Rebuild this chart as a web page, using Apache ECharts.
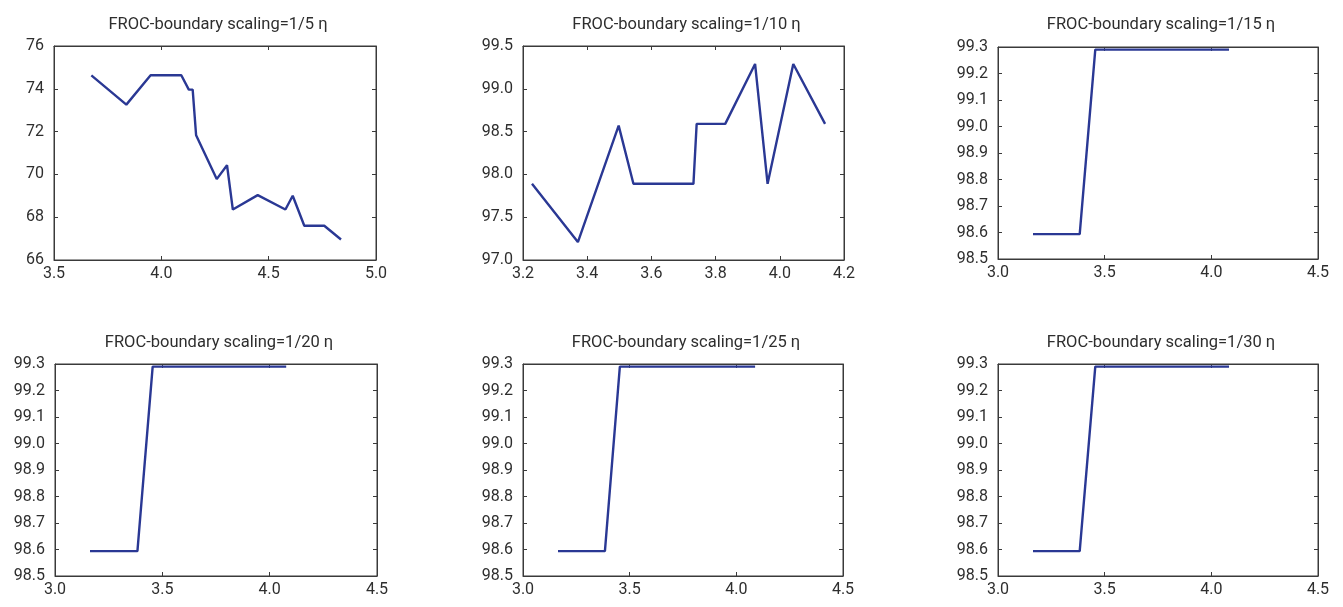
<!DOCTYPE html>
<html>
<head>
<meta charset="utf-8">
<script src="https://cdn.jsdelivr.net/npm/echarts@6/dist/echarts.min.js"></script>
<style>
html,body{margin:0;padding:0;background:#fff;}
#c{width:1343px;height:607px;}
</style>
</head>
<body>
<div id="c"></div>
<script>
// ---- data ----
const titles = [
  'FROC-boundary scaling=1/5 η',
  'FROC-boundary scaling=1/10 η',
  'FROC-boundary scaling=1/15 η',
  'FROC-boundary scaling=1/20 η',
  'FROC-boundary scaling=1/25 η',
  'FROC-boundary scaling=1/30 η'
];
const x1 = [3.674, 3.837, 3.950, 4.093, 4.128, 4.146, 4.162, 4.258, 4.306, 4.333, 4.449, 4.578, 4.612, 4.666, 4.759, 4.837];
const y1 = [74.63, 73.26, 74.63, 74.63, 73.96, 73.96, 71.83, 69.78, 70.43, 68.36, 69.03, 68.36, 69.00, 67.60, 67.60, 66.96];
const x2 = [3.228, 3.371, 3.498, 3.544, 3.731, 3.741, 3.830, 3.923, 3.962, 4.042, 4.141];
const y2 = [97.89, 97.21, 98.57, 97.89, 97.89, 98.59, 98.59, 99.29, 97.89, 99.29, 98.59];
const x3 = [3.164, 3.383, 3.456, 4.083];
const y3 = [98.594, 98.594, 99.29, 99.29];
const x4 = [3.163, 3.384, 3.455, 4.077];
const y4 = [98.594, 98.594, 99.29, 99.29];
const x5 = [3.164, 3.384, 3.454, 4.088];
const y5 = [98.594, 98.594, 99.29, 99.29];
const x6 = [3.164, 3.383, 3.456, 4.083];
const y6 = [98.594, 98.594, 99.29, 99.29];

const xTicks1 = [3.5, 4.0, 4.5, 5.0];
const yTicks1 = [66, 68, 70, 72, 74, 76];
const xTicks2 = [3.2, 3.4, 3.6, 3.8, 4.0, 4.2];
const yTicks2 = [97.0, 97.5, 98.0, 98.5, 99.0, 99.5];
const xTicksB = [3.0, 3.5, 4.0, 4.5];
const yTicksB = [98.5, 98.6, 98.7, 98.8, 98.9, 99.0, 99.1, 99.2, 99.3];

// ---- layout ----
const grids = [
  {left: 54, top: 46, width: 322, height: 214},
  {left: 523, top: 46, width: 321, height: 214},
  {left: 998, top: 47, width: 320, height: 212},
  {left: 55, top: 364, width: 322, height: 212},
  {left: 523, top: 364, width: 320, height: 212},
  {left: 998, top: 364, width: 320, height: 212}
];
const panels = [
  {x: x1, y: y1, xt: xTicks1, yt: yTicks1, xd: 1, yd: 0},
  {x: x2, y: y2, xt: xTicks2, yt: yTicks2, xd: 1, yd: 1},
  {x: x3, y: y3, xt: xTicksB, yt: yTicksB, xd: 1, yd: 1},
  {x: x4, y: y4, xt: xTicksB, yt: yTicksB, xd: 1, yd: 1},
  {x: x5, y: y5, xt: xTicksB, yt: yTicksB, xd: 1, yd: 1},
  {x: x6, y: y6, xt: xTicksB, yt: yTicksB, xd: 1, yd: 1}
];

const FONT = 'Roboto, "Liberation Sans", sans-serif';
const AXC = '#3a3a3a';
const LINEC = '#2a3894';

const option = {
  backgroundColor: '#fff',
  animation: false,
  title: [], grid: [], xAxis: [], yAxis: [], series: []
};

panels.forEach((p, i) => {
  const g = grids[i];
  option.grid.push({left: g.left, top: g.top, width: g.width, height: g.height,
    show: true, borderColor: AXC, borderWidth: 1, backgroundColor: '#fff'});
  option.title.push({
    text: titles[i],
    left: g.left + g.width / 2 - 2,
    top: i < 3 ? 11 : 329,
    textAlign: 'center',
    textStyle: {fontFamily: FONT, fontSize: 16.5, fontWeight: 'normal', color: '#2e2e2e'}
  });
  const xmin = p.xt[0], xmax = p.xt[p.xt.length - 1];
  const xint = +(p.xt[1] - p.xt[0]).toFixed(6);
  const ymin = p.yt[0], ymax = p.yt[p.yt.length - 1];
  const yint = +(p.yt[1] - p.yt[0]).toFixed(6);
  const tick = {show: true, inside: true, length: 4, lineStyle: {color: AXC, width: 1}};
  const line = {show: true, lineStyle: {color: AXC, width: 1}};
  const xd = p.xd, yd = p.yd;
  // bottom x
  option.xAxis.push({gridIndex: i, type: 'value', position: 'bottom', min: xmin, max: xmax, interval: xint,
    axisLine: line, axisTick: tick, splitLine: {show: false},
    axisLabel: {show: true, margin: 6, fontFamily: FONT, fontSize: 16, color: '#2e2e2e',
      formatter: v => v.toFixed(xd), showMinLabel: true, showMaxLabel: true}});
  // top x (mirror ticks)
  option.xAxis.push({gridIndex: i, type: 'value', position: 'top', min: xmin, max: xmax, interval: xint,
    axisLine: line, axisTick: tick, splitLine: {show: false}, axisLabel: {show: false}});
  // left y
  option.yAxis.push({gridIndex: i, type: 'value', position: 'left', min: ymin, max: ymax, interval: yint,
    axisLine: line, axisTick: tick, splitLine: {show: false},
    axisLabel: {show: true, margin: 10, fontFamily: FONT, fontSize: 16, color: '#2e2e2e',
      formatter: v => v.toFixed(yd), showMinLabel: true, showMaxLabel: true}});
  // right y (mirror ticks)
  option.yAxis.push({gridIndex: i, type: 'value', position: 'right', min: ymin, max: ymax, interval: yint,
    axisLine: line, axisTick: tick, splitLine: {show: false}, axisLabel: {show: false}});
  option.series.push({
    type: 'line', xAxisIndex: 2 * i, yAxisIndex: 2 * i,
    data: p.x.map((v, k) => [v, p.y[k]]),
    showSymbol: false, symbol: 'none', clip: false,
    lineStyle: {color: LINEC, width: 2.4}
  });
});

const chart = echarts.init(document.getElementById('c'), null, {renderer: 'canvas'});
chart.setOption(option);
</script>
</body>
</html>
